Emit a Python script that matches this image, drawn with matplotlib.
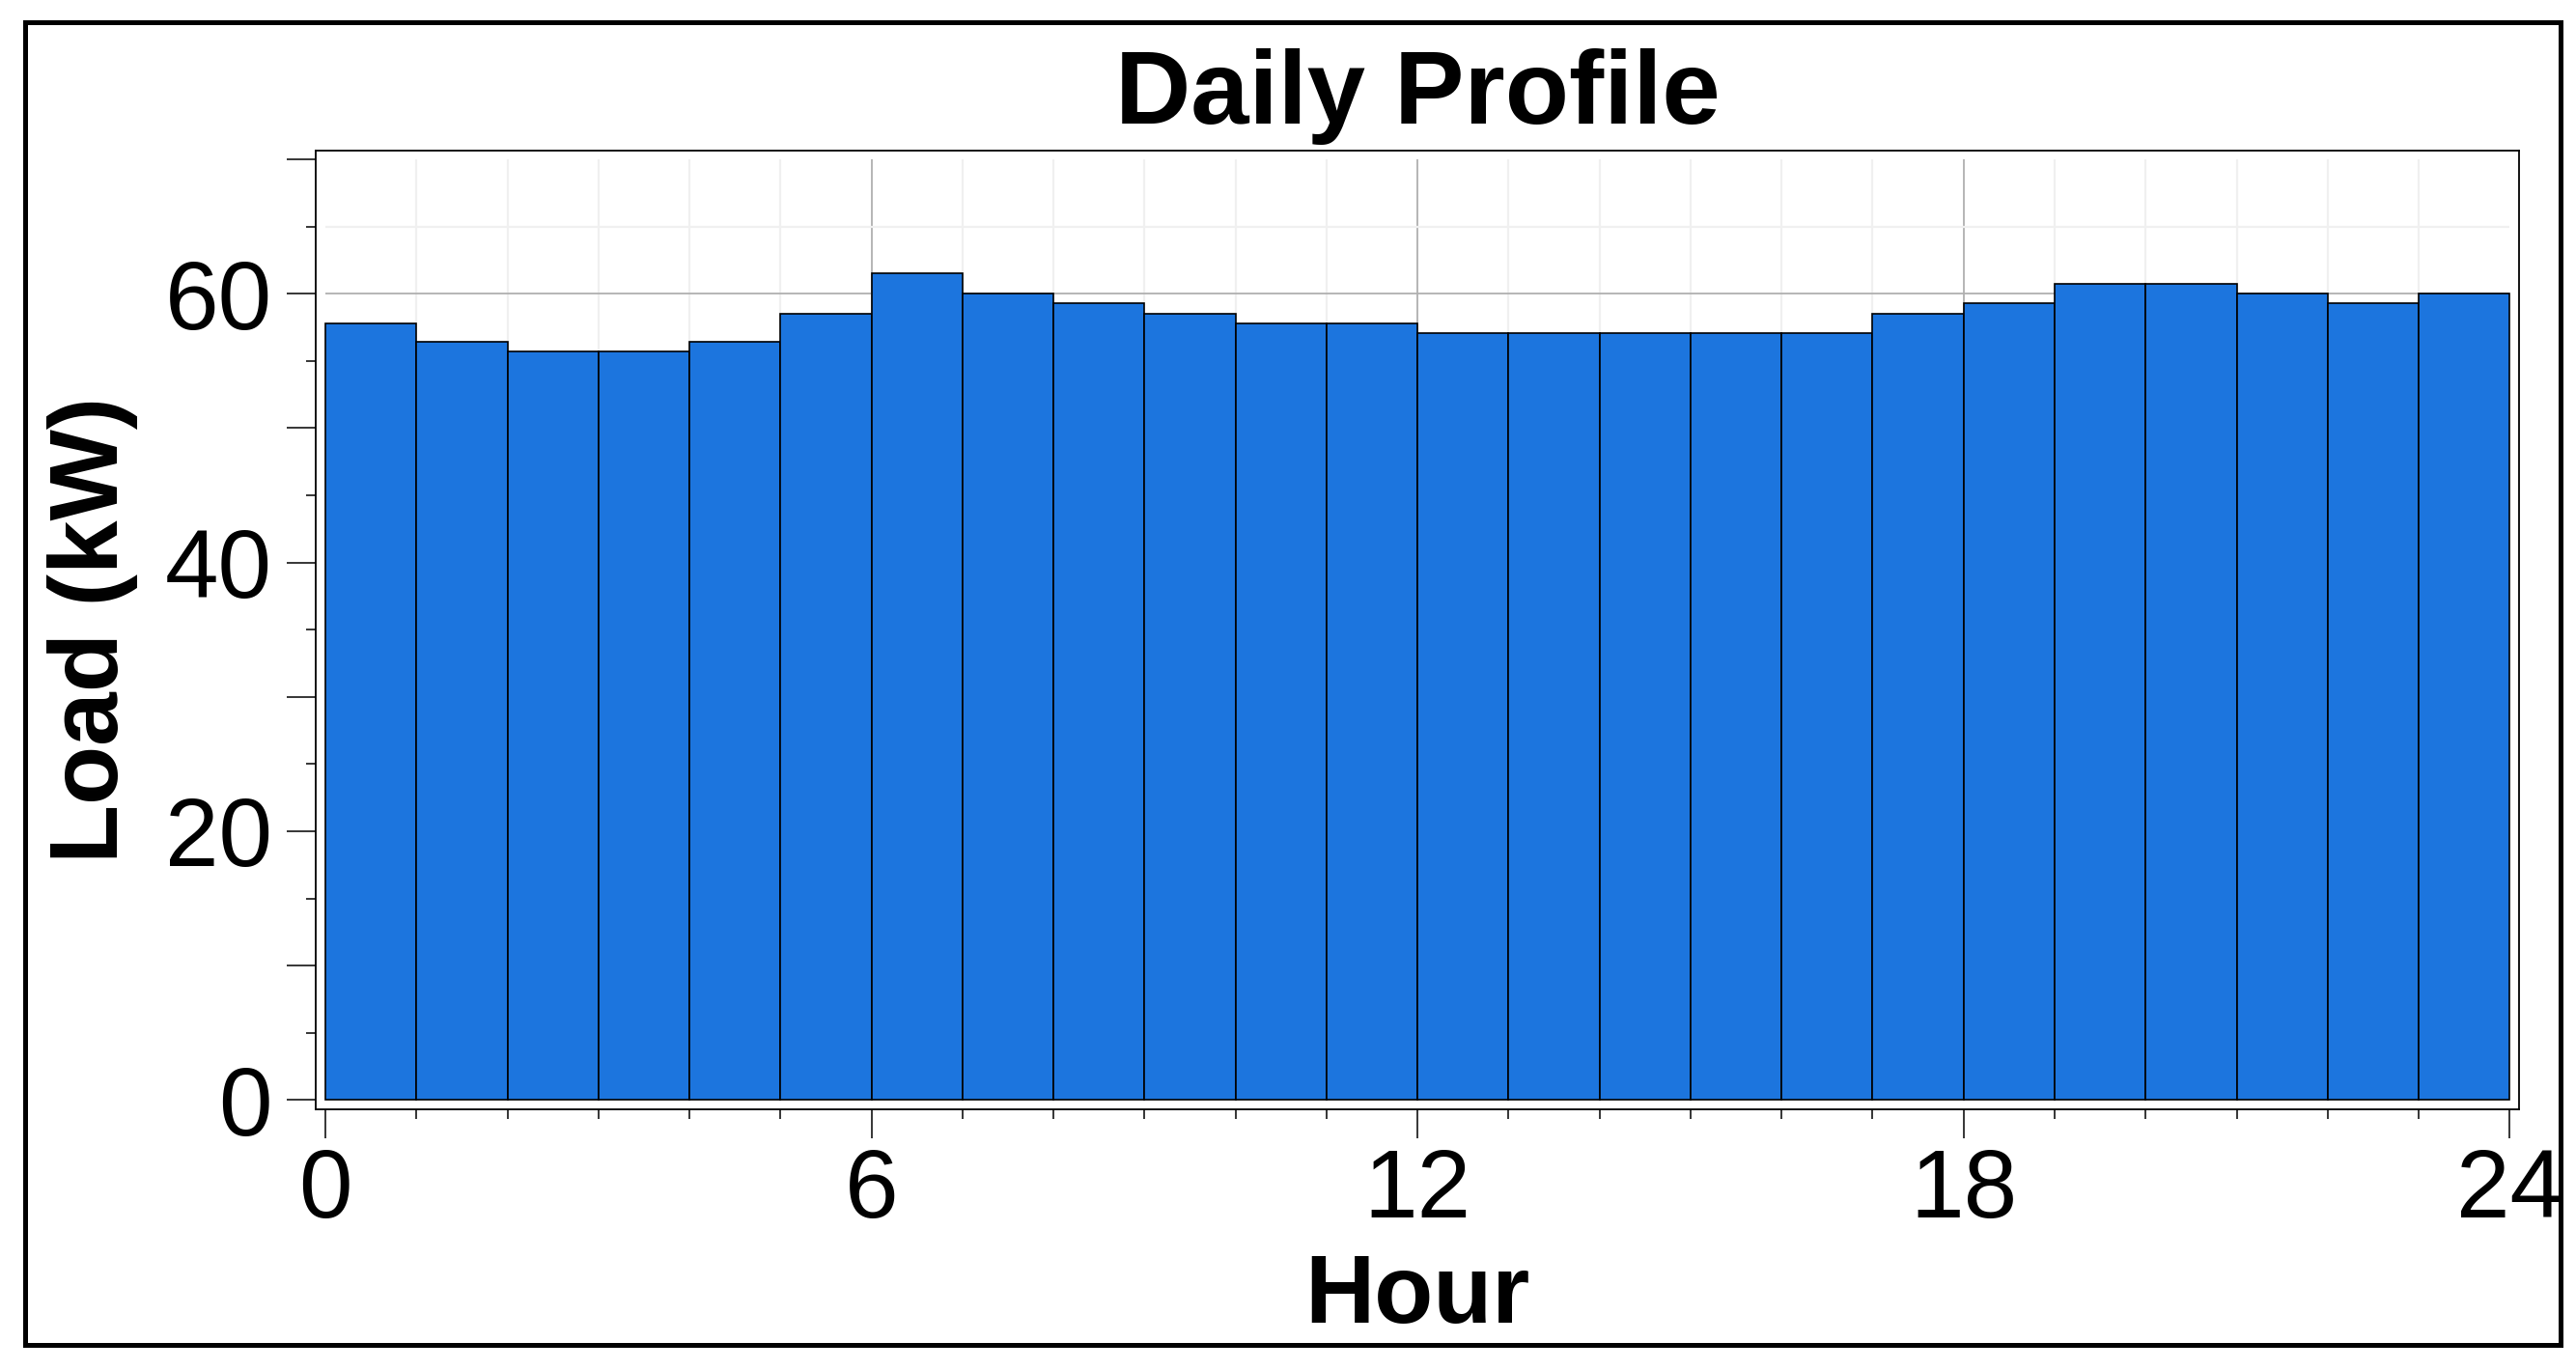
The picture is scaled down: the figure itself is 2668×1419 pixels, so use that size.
import numpy as np
import matplotlib.pyplot as plt
from matplotlib.patches import Rectangle

plt.rcParams['font.family'] = ['Liberation Sans', 'DejaVu Sans']

# Hourly load values (kW)
hours = np.arange(24)
load_kw = [57.8, 56.4, 55.7, 55.7, 56.4, 58.5, 61.5, 60.0, 59.3, 58.5, 57.8, 57.8,
           57.1, 57.1, 57.1, 57.1, 57.1, 58.5, 59.3, 60.7, 60.7, 60.0, 59.3, 60.0]

x_major = [0, 6, 12, 18, 24]
y_major = list(range(0, 71, 10))
y_labels = ['0', '', '20', '', '40', '', '60', '']

bar_color = '#1c75de'

fig = plt.figure(figsize=(26.68, 14.19), dpi=100)
ax = fig.add_axes([0.12256, 0.19006, 0.85544, 0.70021])

# light minor grid and darker major grid, limited to the data area
for h in range(1, 24):
    col = '#b0b0b0' if h % 6 == 0 else '#f0f0f0'
    ax.vlines(h, 0, 70, color=col, linewidth=1.3 if h % 6 == 0 else 1.6, zorder=0)
for v in range(5, 70, 5):
    col = '#b0b0b0' if v % 20 == 0 else '#f0f0f0'
    ax.hlines(v, 0, 24, color=col, linewidth=1.3 if v % 20 == 0 else 1.6, zorder=0)

ax.bar(hours, load_kw, width=1.0, align='edge', color=bar_color,
       edgecolor='black', linewidth=1.2, zorder=2)

ax.set_xlim(-0.106, 24.106)
ax.set_ylim(-0.72, 70.67)

ax.set_xticks(x_major)
ax.set_xticks(range(25), minor=True)
ax.set_yticks(y_major)
ax.set_yticklabels(y_labels)
ax.set_yticks(range(5, 70, 10), minor=True)

ax.tick_params(axis='both', which='major', length=21.6, width=1.1,
               labelsize=72, color='black')
ax.tick_params(axis='both', which='minor', length=7.2, width=1.1, color='black')
ax.tick_params(axis='x', which='major', pad=6)
ax.tick_params(axis='y', which='major', pad=11)

for s in ax.spines.values():
    s.set_linewidth(1.3)

ax.set_title('Daily Profile', fontsize=78, fontweight='bold', pad=20)
ax.set_xlabel('Hour', fontsize=72, fontweight='bold', labelpad=11)
ax.set_ylabel('Load (kW)', fontsize=72, fontweight='bold', labelpad=20)

# outer border around the whole figure
fig.patches.append(Rectangle((0.00975, 0.01832), 0.98425, 0.96548,
                             transform=fig.transFigure, fill=False,
                             edgecolor='black', linewidth=3.6))

fig.savefig('out.png', dpi=100)
